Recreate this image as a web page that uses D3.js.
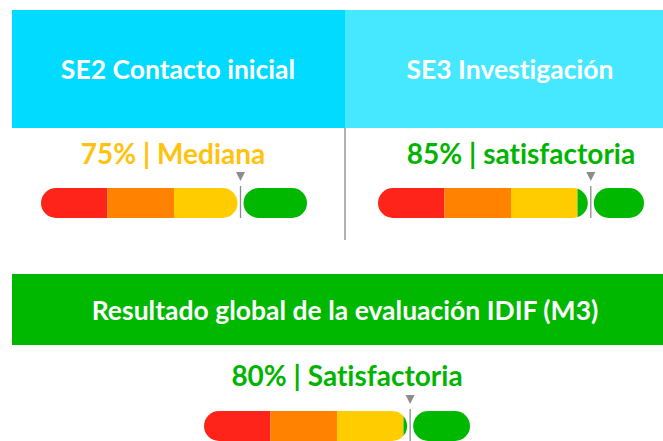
<!DOCTYPE html>
<html>
<head>
<meta charset="utf-8">
<script src="https://cdn.jsdelivr.net/npm/d3@7"></script>
<style>
  html, body { margin: 0; padding: 0; background: #fff; }
  svg { display: block; }
  text { font-family: Lato, "Open Sans", sans-serif; font-weight: 700; font-variant-ligatures: none; }
</style>
</head>
<body>
<div id="chart"></div>
<script>
// data
var panelTitles = ["SE2 Contacto inicial", "SE3 Investigación"];
var panelScores = [75, 85];
var panelRatings = ["Mediana", "satisfactoria"];

var globalTitle = "Resultado global de la evaluación IDIF (M3)";
var globalScore = 80;
var globalRating = "Satisfactoria";

// gauge bands (value edges) and their colours
var bandEdges = [0, 25, 50, 75, 125];
var bandColors = ["#ff2419", "#ff8200", "#ffcc00", "#00b800"];
var ratingColors = {"Mediana": "#ffc20e", "satisfactoria": "#00b400", "Satisfactoria": "#00b400"};

var width = 663,
    height = 441;

var svg = d3.select("#chart")
    .append("svg")
    .attr("width", width)
    .attr("height", height);

var defs = svg.append("defs");

// layout of the three blocks
var panels = [
  {x0: 12, x1: 345, fill: "#00dbff", textX: 178, scoreX: 173, gaugeX: 174},
  {x0: 345, x1: 675, fill: "#45e8ff", textX: 510, scoreX: 521, gaugeX: 511}
];

var gaugeW = 266, gaugeH = 30;

// one gauge: bands clipped into a pill up to the marker, then a green pill after it
function gauge(g, cx, top, value, id) {
  var x = d3.scaleLinear()
      .domain(bandEdges)
      .range(bandEdges.map(function(d, i) { return i * gaugeW / (bandEdges.length - 1); }));
  var left = cx - gaugeW / 2;
  var mx = x(value);
  var gap = 3;

  defs.append("clipPath").attr("id", "clip" + id)
    .append("rect")
      .attr("x", 0).attr("y", 0)
      .attr("width", mx - gap).attr("height", gaugeH)
      .attr("rx", gaugeH / 2).attr("ry", gaugeH / 2);

  var gg = g.append("g").attr("transform", "translate(" + left + "," + top + ")");

  gg.append("g").attr("clip-path", "url(#clip" + id + ")")
    .selectAll("rect")
    .data(bandColors)
    .enter()
    .append("rect")
      .attr("x", function(d, i) { return x(bandEdges[i]); })
      .attr("y", 0)
      .attr("width", function(d, i) { return x(bandEdges[i + 1]) - x(bandEdges[i]); })
      .attr("height", gaugeH)
      .style("fill", function(d) { return d; });

  gg.append("rect")
    .attr("x", mx + gap)
    .attr("y", 0)
    .attr("width", gaugeW - mx - gap)
    .attr("height", gaugeH)
    .attr("rx", gaugeH / 2).attr("ry", gaugeH / 2)
    .style("fill", bandColors[bandColors.length - 1]);

  // marker line and triangle
  gg.append("line")
    .attr("x1", mx).attr("x2", mx)
    .attr("y1", -2).attr("y2", gaugeH)
    .style("stroke", "#8c8c8c")
    .style("stroke-width", 1.3);

  gg.append("path")
    .attr("d", "M" + (mx - 4.5) + ",-16 L" + (mx + 4.5) + ",-16 L" + mx + ",-7 Z")
    .style("fill", "#8c8c8c");
}

// top two blocks
panels.forEach(function(p, i) {
  svg.append("rect")
    .attr("x", p.x0).attr("y", 10)
    .attr("width", p.x1 - p.x0).attr("height", 118)
    .style("fill", p.fill);

  svg.append("text")
    .attr("x", p.textX).attr("y", 79)
    .attr("text-anchor", "middle")
    .style("font-size", "26.5px")
    .style("fill", "#fff")
    .text(panelTitles[i]);

  svg.append("text")
    .attr("x", p.scoreX).attr("y", 164)
    .attr("text-anchor", "middle")
    .style("font-size", "28px")
    .style("fill", ratingColors[panelRatings[i]])
    .text(panelScores[i] + "% | " + panelRatings[i]);

  gauge(svg, p.gaugeX, 188, panelScores[i], i);
});

// divider between the two blocks
svg.append("line")
  .attr("x1", 345).attr("x2", 345)
  .attr("y1", 128).attr("y2", 240)
  .style("stroke", "#b0b0b0")
  .style("stroke-width", 2);

// global result
svg.append("rect")
  .attr("x", 12).attr("y", 274)
  .attr("width", width - 12).attr("height", 71)
  .style("fill", "#00b800");

svg.append("text")
  .attr("x", 345).attr("y", 320)
  .attr("text-anchor", "middle")
  .style("font-size", "26.5px")
  .style("fill", "#fff")
  .text(globalTitle);

svg.append("text")
  .attr("x", 347).attr("y", 386)
  .attr("text-anchor", "middle")
  .style("font-size", "28px")
  .style("fill", ratingColors[globalRating])
  .text(globalScore + "% | " + globalRating);

gauge(svg, 337, 411, globalScore, 2);
</script>
</body>
</html>
